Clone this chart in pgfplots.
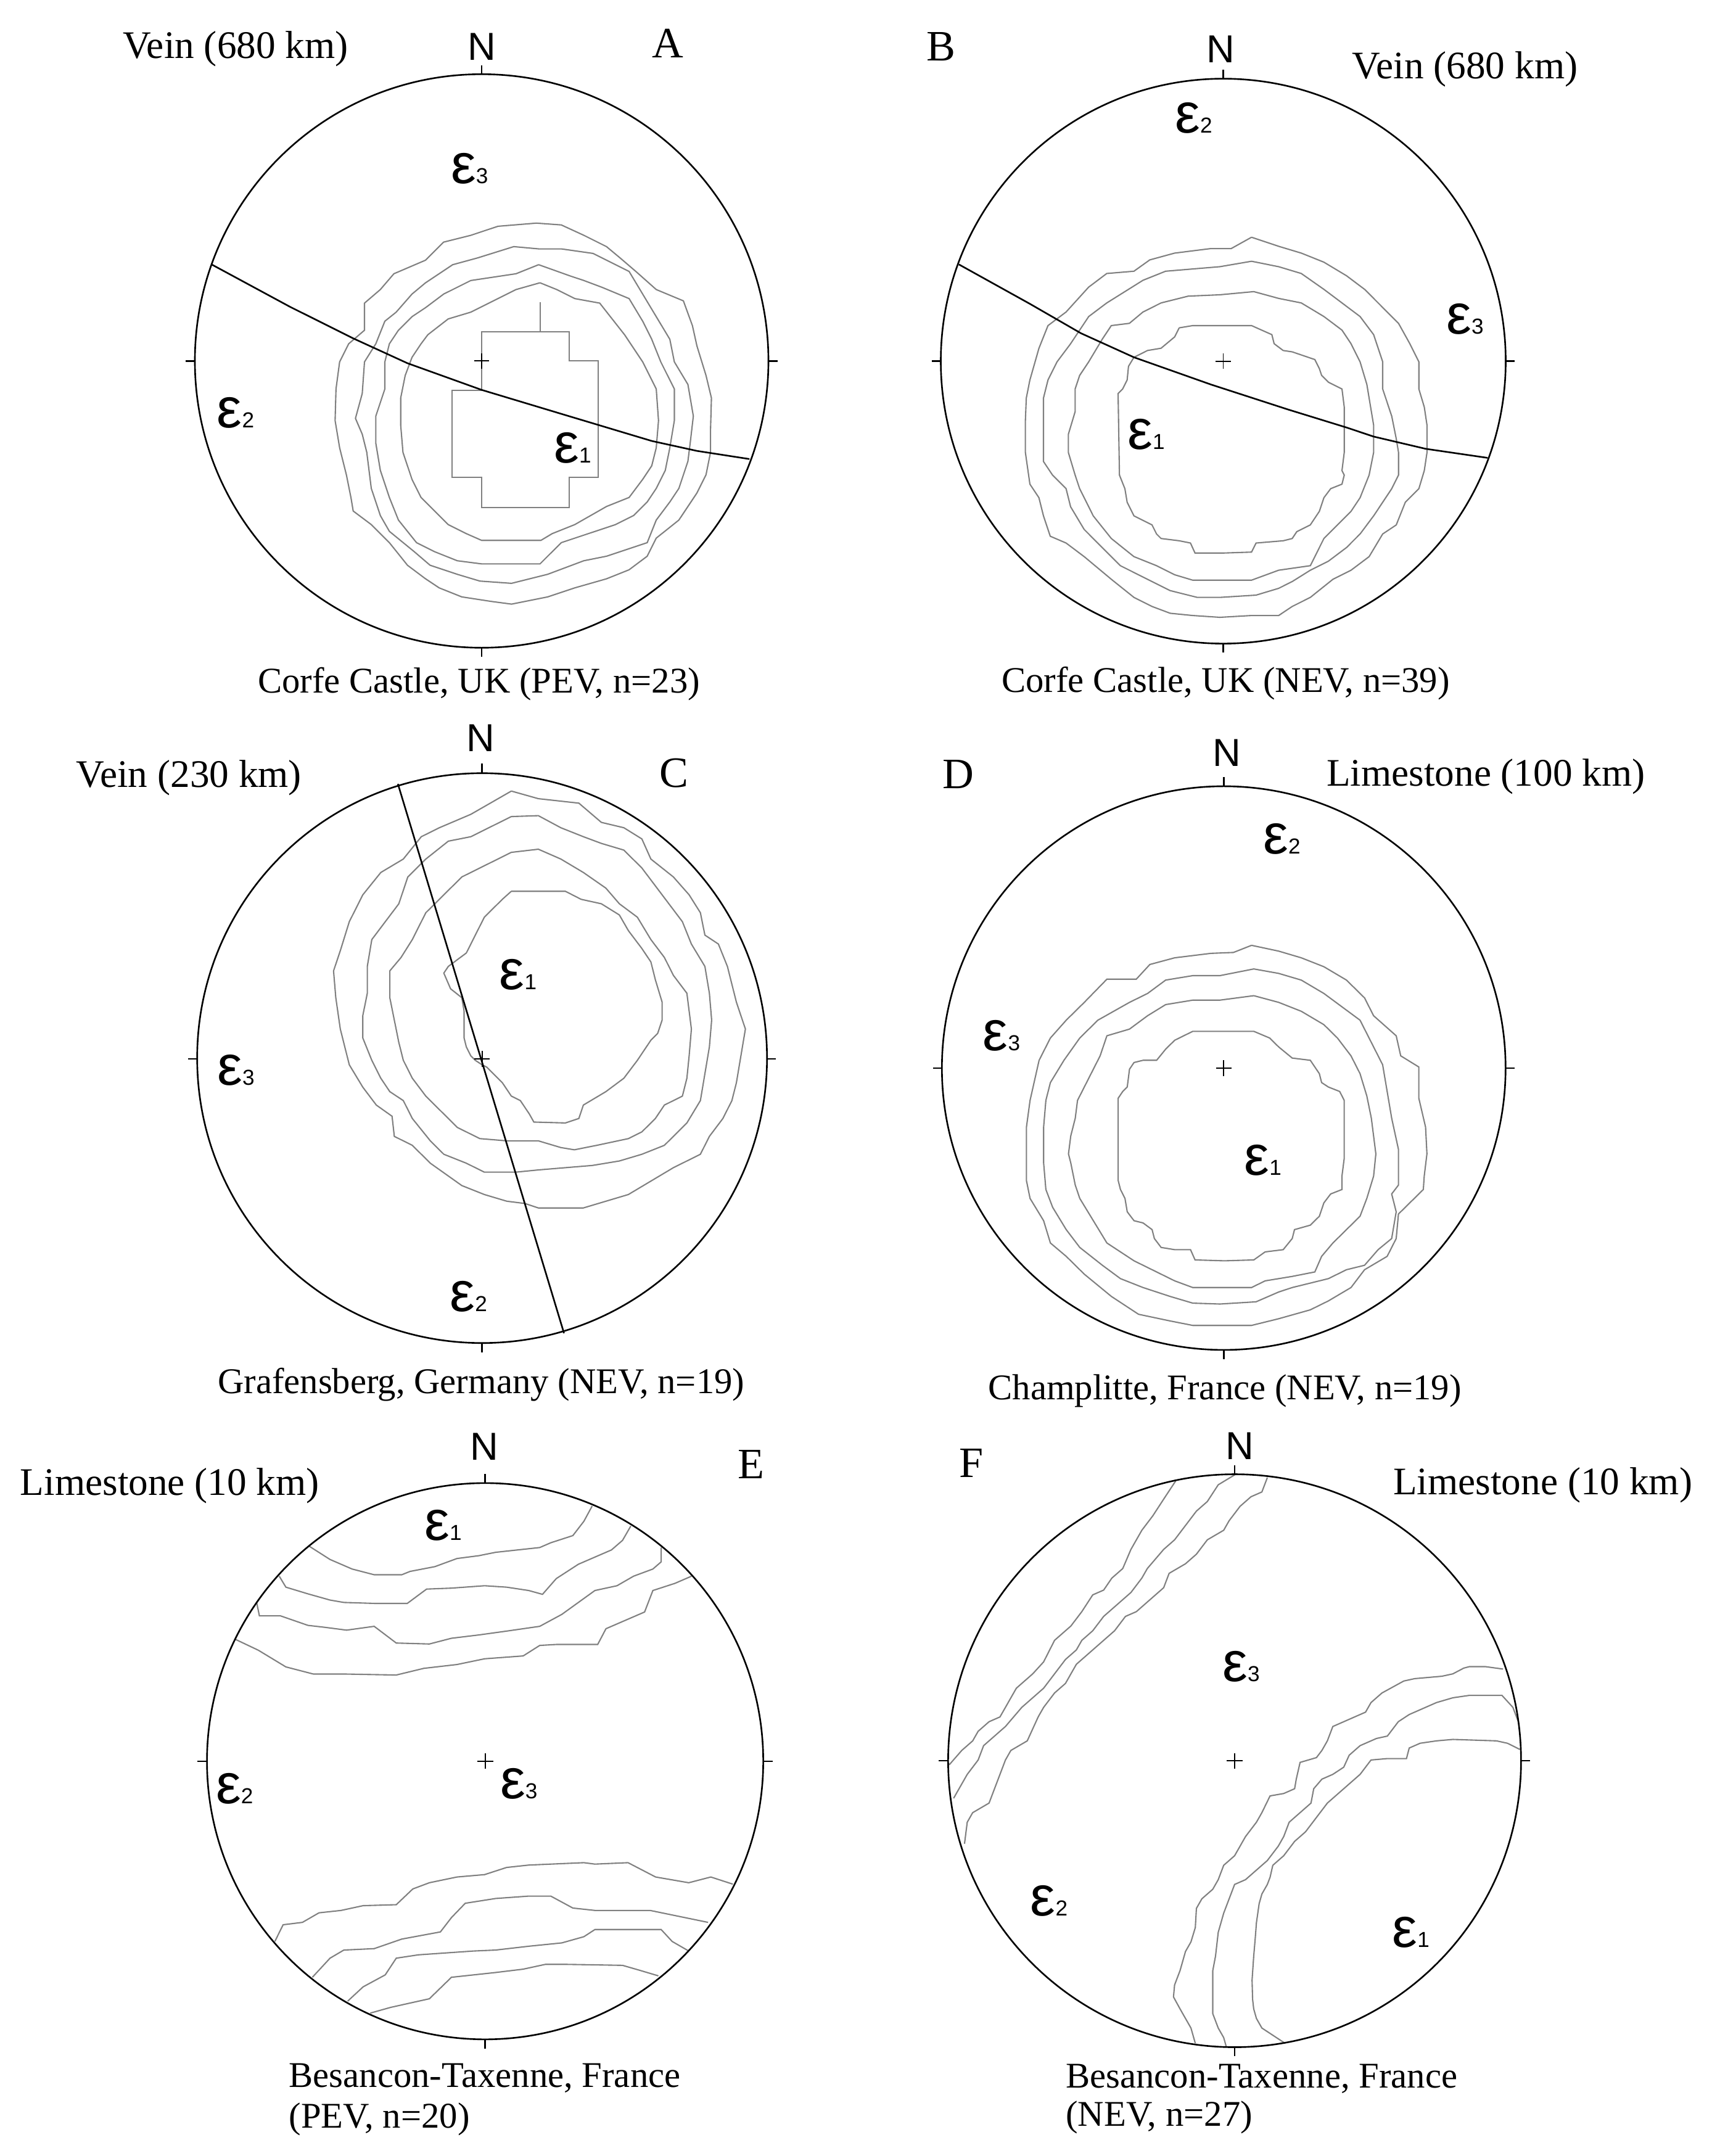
\documentclass[border=0pt]{standalone}
\usepackage{pgfplots}
\pgfplotsset{compat=1.18}
\usepackage{fontspec}
\setmainfont{Liberation Serif}
\newfontfamily\sansfont{Liberation Sans}
\tikzset{
 toplab/.style={font=\fontsize{18}{21}\selectfont, inner sep=0pt},
 captxt/.style={font=\fontsize{16.7}{20}\selectfont, inner sep=0pt},
 panlet/.style={font=\fontsize{20}{24}\selectfont, inner sep=0pt},
 nlab/.style={font=\sansfont\fontsize{18}{21}\selectfont, inner sep=0pt},
 eplab/.style={font=\sansfont\fontsize{26}{30}\selectfont, inner sep=0pt},
 frameline/.style={black, line width=0.75pt},
 plusline/.style={black, line width=0.55pt},
}
\pgfplotsset{
 stereo/.style={hide axis, scale only axis, y dir=reverse, clip=false, enlargelimits=false, anchor=center},
 cont/.style={black!50, line width=0.6pt, mark=none},
 gc/.style={black, line width=0.75pt, mark=none},
}
\newcommand\ep[1]{ε{\fontsize{10}{11}\selectfont #1}}
% #1 radius (cm); #2 cx; #3 cy; #4 xleft; #5 xright; #6 ytop; #7 ybottom; #8 x tick len; #9 y tick len
\newcommand\stereoframe[9]{%
 \draw[frameline] (axis description cs:0.5,0.5) circle[radius=#1cm];
 \draw[frameline] (axis cs:#2,#6) -- (axis cs:#2,#6-#9);
 \draw[frameline] (axis cs:#2,#7) -- (axis cs:#2,#7+#9);
 \draw[frameline] (axis cs:#4,#3) -- (axis cs:#4-#8,#3);
 \draw[frameline] (axis cs:#5,#3) -- (axis cs:#5+#8,#3);
 \draw[plusline] (axis cs:#2-0.85*#8,#3) -- (axis cs:#2+0.85*#8,#3);
 \draw[plusline] (axis cs:#2,#3-0.85*#9) -- (axis cs:#2,#3+0.85*#9);
}
\begin{document}
\begin{tikzpicture}
\useasboundingbox (0,0) rectangle (27.88,-34.96);

% ---------------- A ----------------
\begin{axis}[stereo, at={(7.810cm,-5.853cm)}, width=9.30cm, height=9.30cm,
 xmin=90, xmax=1358, ymin=163.5, ymax=1432.5]
\addplot[cont] coordinates {(845,493) (900,497) (950,520) (1000,545) (1030,570) (1065,600) (1110,640) (1170,665) (1190,720) (1200,765) (1220,830) (1232,880) (1230,950) (1230,1000) (1220,1050) (1200,1090) (1160,1150) (1110,1190) (1090,1230) (1050,1260) (1000,1280) (930,1300) (870,1320) (790,1336) (745,1330) (680,1320) (630,1300) (600,1280) (560,1250) (520,1200) (480,1160) (440,1130) (435,1100) (425,1050) (410,990) (400,930) (402,860) (410,800) (430,760) (465,730) (465,670) (500,640) (530,605) (600,575) (640,535) (700,520) (760,500) (845,493)};
\addplot[cont] coordinates {(795,545) (850,550) (900,550) (970,560) (1050,600) (1080,650) (1110,700) (1140,750) (1150,800) (1180,850) (1192,920) (1185,980) (1180,1020) (1160,1080) (1140,1110) (1110,1150) (1090,1200) (1060,1210) (1000,1230) (950,1240) (870,1270) (790,1290) (720,1285) (670,1270) (610,1250) (575,1220) (520,1175) (500,1140) (480,1080) (470,1000) (460,960) (445,925) (460,870) (465,800) (490,760) (510,710) (535,690) (570,650) (600,625) (660,585) (715,570) (795,545)};
\addplot[cont] coordinates {(850,585) (920,610) (950,620) (990,635) (1050,660) (1080,710) (1100,750) (1120,800) (1150,860) (1150,930) (1140,990) (1130,1040) (1110,1080) (1090,1110) (1060,1140) (1020,1160) (960,1180) (900,1200) (853,1247) (724,1247) (670,1240) (620,1220) (580,1200) (540,1150) (520,1100) (500,1040) (490,980) (490,920) (510,860) (510,800) (520,760) (540,730) (570,700) (600,680) (640,650) (700,620) (800,605) (850,585)};
\addplot[cont] coordinates {(853,625) (890,640) (930,660) (985,670) (1040,740) (1080,800) (1110,860) (1115,930) (1110,990) (1100,1030) (1080,1060) (1050,1100) (1000,1120) (930,1160) (880,1180) (855,1195) (724,1195) (690,1180) (650,1160) (620,1130) (590,1100) (570,1060) (550,1000) (545,940) (545,880) (555,830) (570,790) (590,760) (605,740) (650,705) (700,690) (760,660) (800,640) (853,625)};
\addplot[cont] coordinates {(853,668) (853,733) (918,733) (918,798) (982,798) (982,1056) (918,1056) (918,1122) (724,1122) (724,1056) (658,1056) (658,863) (724,863) (724,733) (853,733)};
\addplot[gc] coordinates {(128,585) (300,678) (440,748) (560,803) (724,862) (900,915) (1000,945) (1100,975) (1200,997) (1316,1015)};
\stereoframe{4.65}{724}{798}{90}{1358}{163.5}{1432.5}{20}{20}
\node[toplab, anchor=base east] at (axis cs:430,128) {Vein (680 km)};
\node[nlab, anchor=base] at (axis cs:724,133) {N};
\node[panlet, anchor=base west] at (axis cs:1100,127) {A};
\node[captxt, anchor=base] at (axis cs:718,1532) {Corfe Castle, UK (PEV, n=23)};
\node[eplab] at (axis cs:697,372) {\ep{3}};
\node[eplab] at (axis cs:180,912) {\ep{2}};
\node[eplab] at (axis cs:925,990) {\ep{1}};
\end{axis}

% ---------------- B ----------------
\begin{axis}[stereo, at={(19.835cm,-5.856cm)}, width=9.16cm, height=9.16cm,
 xmin=103, xmax=1352, ymin=175, ymax=1422]
\addplot[cont] coordinates {(790,525) (850,545) (900,560) (950,580) (1000,610) (1040,640) (1080,680) (1115,715) (1140,760) (1160,800) (1160,860) (1172,900) (1178,940) (1178,1000) (1172,1040) (1160,1080) (1130,1110) (1110,1160) (1080,1180) (1050,1230) (1010,1260) (970,1280) (920,1320) (880,1340) (850,1360) (790,1360) (720,1364) (660,1360) (610,1355) (570,1340) (530,1320) (480,1280) (420,1230) (380,1200) (345,1185) (330,1140) (320,1100) (300,1070) (290,1000) (290,930) (292,880) (300,840) (320,770) (340,720) (380,690) (430,635) (470,605) (530,600) (565,575) (620,560) (700,550) (745,550) (790,525)};
\addplot[cont] coordinates {(790,578) (850,590) (900,605) (950,640) (990,670) (1030,700) (1060,740) (1080,800) (1080,860) (1100,920) (1110,970) (1115,1000) (1115,1050) (1100,1080) (1080,1110) (1060,1140) (1030,1180) (1000,1210) (960,1240) (920,1260) (880,1285) (850,1300) (800,1315) (720,1320) (670,1320) (610,1305) (560,1280) (500,1250) (460,1210) (420,1170) (390,1120) (380,1080) (350,1050) (330,1020) (330,930) (330,880) (340,840) (360,800) (390,760) (430,700) (470,670) (510,645) (550,620) (600,600) (660,595) (720,590) (790,578)};
\addplot[cont] coordinates {(795,645) (850,660) (900,670) (950,700) (990,730) (1010,760) (1030,800) (1045,850) (1050,880) (1060,940) (1060,1000) (1050,1050) (1030,1100) (1010,1130) (980,1160) (950,1190) (920,1250) (850,1260) (790,1282) (720,1282) (660,1282) (620,1270) (580,1250) (530,1230) (480,1190) (440,1140) (410,1080) (400,1050) (385,1000) (385,960) (400,910) (400,860) (410,830) (430,800) (460,750) (480,720) (520,715) (550,690) (590,670) (650,655) (720,652) (795,645)};
\addplot[cont] coordinates {(630,725) (660,720) (790,720) (835,740) (840,760) (860,775) (880,778) (930,795) (940,815) (945,830) (960,845) (990,860) (995,900) (995,1000) (990,1040) (995,1050) (990,1070) (965,1080) (950,1100) (940,1130) (920,1160) (890,1175) (880,1190) (860,1195) (800,1200) (790,1220) (730,1222) (665,1222) (655,1200) (630,1195) (590,1190) (580,1180) (570,1160) (550,1150) (530,1140) (515,1110) (510,1080) (498,1050) (495,870) (505,860) (515,840) (518,810) (530,790) (560,775) (590,770) (620,745) (630,725)};
\addplot[gc] coordinates {(143,585) (300,672) (413,737) (530,790) (700,850) (870,905) (1000,945) (1060,965) (1175,992) (1312,1012)};
\stereoframe{4.58}{727.5}{798.5}{103}{1352}{175}{1422}{20}{20}
\node[panlet, anchor=base west] at (axis cs:70,135) {B};
\node[nlab, anchor=base] at (axis cs:722,140) {N};
\node[toplab, anchor=base west] at (axis cs:1012,175) {Vein (680 km)};
\node[captxt, anchor=base] at (axis cs:733,1530) {Corfe Castle, UK (NEV, n=39)};
\node[eplab] at (axis cs:662,262) {\ep{2}};
\node[eplab] at (axis cs:1262,705) {\ep{3}};
\node[eplab] at (axis cs:557,960) {\ep{1}};
\end{axis}

% ---------------- C ----------------
\begin{axis}[stereo, at={(7.817cm,-17.157cm)}, width=9.24cm, height=9.24cm,
 xmin=92, xmax=1358, ymin=148, ymax=1422]
\addplot[cont] coordinates {(790,188) (850,205) (940,215) (990,258) (1040,270) (1080,295) (1100,340) (1150,380) (1185,420) (1210,460) (1220,510) (1250,530) (1270,580) (1290,660) (1310,720) (1300,780) (1290,840) (1280,880) (1260,920) (1230,960) (1210,1000) (1150,1030) (1100,1060) (1050,1090) (1000,1105) (950,1120) (850,1120) (820,1110) (780,1105) (730,1090) (680,1070) (610,1020) (570,980) (530,960) (525,915) (490,890) (460,850) (430,800) (410,720) (400,650) (395,590) (410,545) (430,480) (460,420) (500,370) (550,340) (590,290) (630,270) (700,240) (790,188)};
\addplot[cont] coordinates {(790,245) (850,243) (900,270) (950,290) (990,305) (1040,320) (1080,360) (1110,400) (1140,440) (1170,480) (1190,530) (1220,580) (1230,640) (1235,700) (1230,760) (1220,820) (1210,880) (1180,930) (1130,980) (1080,1000) (1030,1015) (970,1025) (910,1030) (850,1035) (800,1040) (730,1040) (690,1020) (640,1000) (610,970) (570,920) (550,880) (520,860) (500,830) (480,790) (460,740) (460,690) (470,640) (470,580) (480,520) (510,480) (540,440) (560,380) (600,340) (650,300) (700,290) (790,245)};
\addplot[cont] coordinates {(790,325) (850,318) (900,340) (950,370) (1000,405) (1030,440) (1070,470) (1100,520) (1130,560) (1150,600) (1180,640) (1190,720) (1185,780) (1180,830) (1170,870) (1130,890) (1110,920) (1080,950) (1050,965) (980,980) (930,990) (900,985) (850,970) (780,970) (720,965) (670,940) (630,900) (600,870) (570,830) (550,790) (540,750) (530,700) (520,650) (520,590) (545,560) (570,520) (600,460) (640,420) (680,380) (720,360) (790,325)};
\addplot[cont] coordinates {(790,412) (850,412) (910,412) (945,430) (990,440) (1030,465) (1050,500) (1080,540) (1100,570) (1110,610) (1125,660) (1125,700) (1115,730) (1100,745) (1090,760) (1070,790) (1040,830) (1000,860) (950,890) (940,920) (910,930) (840,928) (830,910) (810,880) (790,870) (770,840) (750,820) (735,805) (725,800) (710,790) (700,780) (690,760) (685,740) (685,680) (680,650) (655,630) (640,595) (650,580) (690,550) (710,510) (730,470) (750,450) (770,430) (790,412)};
\addplot[gc] coordinates {(538,172) (907,1400)};
\stereoframe{4.62}{725}{787}{92}{1358}{148}{1422}{20}{21}
\node[toplab, anchor=base east] at (axis cs:325,180) {Vein (230 km)};
\node[nlab, anchor=base] at (axis cs:722,100) {N};
\node[panlet, anchor=base west] at (axis cs:1118,180) {C};
\node[captxt, anchor=base] at (axis cs:723,1535) {Grafensberg, Germany (NEV, n=19)};
\node[eplab] at (axis cs:805,598) {\ep{1}};
\node[eplab] at (axis cs:178,812) {\ep{3}};
\node[eplab] at (axis cs:695,1318) {\ep{2}};
\end{axis}

% ---------------- D ----------------
\begin{axis}[stereo, at={(19.843cm,-17.319cm)}, width=9.14cm, height=9.14cm,
 xmin=105, xmax=1352, ymin=175, ymax=1440]
\addplot[cont] coordinates {(790,532) (850,545) (900,560) (950,580) (1000,610) (1040,650) (1060,690) (1110,735) (1120,780) (1160,805) (1160,875) (1175,940) (1178,1000) (1172,1050) (1170,1080) (1140,1110) (1115,1135) (1110,1190) (1090,1230) (1040,1260) (1010,1300) (960,1330) (920,1350) (850,1370) (790,1385) (730,1385) (660,1385) (610,1375) (540,1360) (480,1320) (420,1270) (380,1230) (345,1200) (330,1150) (300,1100) (292,1060) (292,1000) (292,940) (300,880) (320,790) (345,740) (380,700) (420,660) (470,608) (535,608) (565,575) (620,560) (700,550) (750,548) (790,532)};
\addplot[cont] coordinates {(795,585) (850,595) (900,610) (950,640) (990,670) (1030,700) (1050,740) (1080,800) (1090,860) (1100,920) (1115,990) (1115,1070) (1100,1090) (1110,1130) (1100,1190) (1070,1215) (1040,1250) (1000,1260) (960,1280) (920,1290) (880,1300) (850,1310) (800,1332) (720,1337) (660,1335) (610,1320) (550,1300) (500,1280) (460,1250) (410,1210) (380,1170) (350,1120) (335,1080) (330,1020) (330,940) (335,880) (345,840) (375,790) (410,740) (450,700) (520,660) (560,640) (600,610) (660,600) (720,600) (795,585)};
\addplot[cont] coordinates {(795,645) (850,660) (900,680) (950,710) (980,740) (1010,780) (1030,820) (1045,870) (1055,920) (1065,1000) (1060,1050) (1045,1100) (1030,1140) (1000,1170) (970,1200) (945,1230) (930,1265) (880,1275) (820,1285) (790,1300) (720,1300) (660,1300) (620,1285) (580,1265) (530,1240) (470,1200) (440,1150) (410,1100) (400,1070) (390,1020) (385,1000) (390,960) (400,920) (405,880) (430,830) (455,780) (470,735) (520,720) (560,690) (600,665) (660,655) (720,655) (795,645)};
\addplot[cont] coordinates {(620,745) (660,725) (730,725) (795,725) (830,740) (850,760) (880,785) (920,790) (940,820) (945,840) (960,850) (985,860) (995,880) (995,950) (995,1010) (990,1050) (990,1080) (965,1090) (950,1110) (940,1140) (920,1160) (885,1170) (880,1190) (860,1215) (820,1220) (795,1238) (730,1240) (665,1238) (655,1215) (620,1215) (590,1210) (575,1190) (570,1170) (550,1155) (530,1150) (515,1130) (510,1100) (500,1080) (495,1060) (495,875) (505,860) (515,850) (520,810) (530,795) (550,790) (580,790) (600,765) (620,745)};
\stereoframe{4.57}{728.5}{807.5}{105}{1352}{175}{1440}{20}{21}
\node[panlet, anchor=base west] at (axis cs:105,180) {D};
\node[nlab, anchor=base] at (axis cs:735,130) {N};
\node[toplab, anchor=base west] at (axis cs:955,175) {Limestone (100 km)};
\node[captxt, anchor=base] at (axis cs:731,1552) {Champlitte, France (NEV, n=19)};
\node[eplab] at (axis cs:857,293) {\ep{2}};
\node[eplab] at (axis cs:237,735) {\ep{3}};
\node[eplab] at (axis cs:815,1015) {\ep{1}};
\end{axis}

% ---------------- E ----------------
\begin{axis}[stereo, at={(7.866cm,-28.558cm)}, width=9.02cm, height=9.02cm,
 xmin=377, xmax=1385, ymin=160, ymax=1325]
\addplot[cont] coordinates {(562,292) (600,320) (640,340) (680,352) (730,352) (745,345) (790,335) (830,318) (870,312) (900,305) (940,300) (980,295) (1000,285) (1040,270) (1060,240) (1075,208)};
\addplot[cont] coordinates {(508,355) (520,378) (560,392) (600,405) (625,410) (680,412) (740,412) (775,382) (820,380) (880,375) (920,378) (960,385) (985,393) (1010,360) (1050,330) (1080,315) (1110,300) (1130,280) (1145,250)};
\addplot[cont] coordinates {(467,410) (472,438) (510,438) (560,458) (590,462) (630,468) (680,460) (720,495) (780,497) (820,485) (870,478) (920,470) (980,460) (1020,435) (1050,410) (1080,385) (1120,375) (1150,355) (1185,340) (1200,325) (1200,295)};
\addplot[cont] coordinates {(428,487) (470,510) (520,545) (570,560) (630,560) (720,562) (770,548) (830,540) (880,528) (950,522) (980,500) (1010,498) (1085,498) (1100,465) (1170,430) (1185,385) (1225,370) (1255,355)};
\addplot[cont] coordinates {(500,1120) (515,1085) (550,1080) (580,1060) (620,1055) (660,1045) (720,1043) (750,1010) (780,997) (830,985) (880,980) (920,965) (960,960) (1020,957) (1060,955) (1080,958) (1140,955) (1190,985) (1250,997) (1290,985) (1330,1000)};
\addplot[cont] coordinates {(568,1195) (600,1155) (625,1138) (680,1135) (730,1115) (800,1100) (820,1070) (845,1040) (900,1030) (960,1025) (1000,1025) (1040,1050) (1080,1055) (1180,1055) (1285,1080)};
\addplot[cont] coordinates {(632,1245) (660,1215) (700,1190) (720,1155) (760,1148) (860,1140) (900,1138) (960,1130) (1020,1123) (1060,1110) (1080,1095) (1130,1095) (1200,1095) (1220,1120) (1250,1140)};
\addplot[cont] coordinates {(673,1270) (710,1258) (780,1240) (820,1195) (900,1185) (950,1178) (990,1168) (1030,1168) (1130,1170) (1160,1180) (1195,1192)};
\stereoframe{4.51}{881}{742.5}{377}{1385}{160}{1325}{17}{19}
\node[toplab, anchor=base west] at (axis cs:38,185) {Limestone (10 km)};
\node[nlab, anchor=base] at (axis cs:880,112) {N};
\node[panlet, anchor=base west] at (axis cs:1338,150) {E};
\node[captxt, anchor=base west] at (axis cs:525,1425) {Besancon-Taxenne, France};
\node[captxt, anchor=base west] at (axis cs:525,1510) {(PEV, n=20)};
\node[eplab] at (axis cs:805,248) {\ep{1}};
\node[eplab] at (axis cs:427,800) {\ep{2}};
\node[eplab] at (axis cs:942,790) {\ep{3}};
\end{axis}

% ---------------- F ----------------
\begin{axis}[stereo, at={(20.019cm,-28.550cm)}, width=9.29cm, height=9.29cm,
 xmin=155, xmax=1205, ymin=143, ymax=1340]
\addplot[cont] coordinates {(572,157) (550,195) (530,230) (510,260) (490,300) (475,340) (455,360) (440,385) (420,395) (400,430) (380,460) (350,490) (330,535) (310,560) (280,590) (265,620) (250,650) (230,660) (210,680) (200,700) (180,720) (157,750)};
\addplot[cont] coordinates {(682,143) (650,165) (630,200) (610,220) (590,250) (570,280) (550,300) (520,340) (510,360) (490,390) (470,410) (440,440) (420,470) (400,490) (390,510) (370,530) (350,560) (330,590) (310,610) (290,630) (260,670) (240,690) (220,710) (210,740) (190,770) (165,820)};
\addplot[cont] coordinates {(740,150) (730,180) (710,190) (690,210) (670,240) (660,260) (630,280) (610,310) (590,330) (560,350) (550,380) (520,410) (500,430) (480,440) (460,470) (440,490) (410,520) (390,540) (370,580) (350,600) (330,630) (320,650) (300,700) (270,720) (260,740) (250,770) (240,800) (230,830) (200,850) (190,870) (185,915)};
\addplot[cont] coordinates {(1172,550) (1140,545) (1110,545) (1100,548) (1080,560) (1060,565) (1010,570) (990,575) (950,600) (930,620) (920,640) (880,660) (860,670) (850,700) (840,720) (830,735) (800,745) (793,780) (790,800) (770,810) (745,815) (730,850) (720,870) (700,900) (690,920) (680,940) (660,960) (650,990) (640,1010) (620,1030) (610,1050) (608,1090) (600,1120) (590,1140) (580,1180) (570,1210) (568,1235) (580,1260) (590,1280) (600,1300) (608,1332)};
\addplot[cont] coordinates {(1200,660) (1190,630) (1170,605) (1110,605) (1080,610) (1050,620) (1030,630) (1000,645) (980,660) (960,690) (940,695) (910,710) (890,730) (880,755) (860,770) (840,780) (825,800) (820,830) (800,850) (780,870) (770,900) (760,920) (740,950) (720,970) (700,990) (680,1000) (670,1030) (660,1060) (650,1100) (645,1150) (640,1180) (640,1230) (640,1270) (650,1300) (660,1320) (665,1340)};
\addplot[cont] coordinates {(1203,718) (1180,705) (1160,700) (1080,697) (1050,700) (1020,705) (1000,715) (995,737) (960,737) (930,740) (910,770) (890,790) (870,810) (850,830) (830,860) (810,890) (790,910) (770,940) (750,960) (745,985) (740,1000) (730,1020) (725,1040) (720,1080) (718,1110) (715,1150) (712,1200) (713,1240) (715,1260) (720,1280) (730,1300) (750,1315) (770,1330)};
\stereoframe{4.645}{680}{741.5}{155}{1205}{143}{1340}{17}{19}
\node[panlet, anchor=base west] at (axis cs:175,150) {F};
\node[nlab, anchor=base] at (axis cs:690,112) {N};
\node[toplab, anchor=base west] at (axis cs:970,185) {Limestone (10 km)};
\node[captxt, anchor=base west] at (axis cs:370,1425) {Besancon-Taxenne, France};
\node[captxt, anchor=base west] at (axis cs:370,1505) {(NEV, n=27)};
\node[eplab] at (axis cs:692,545) {\ep{3}};
\node[eplab] at (axis cs:340,1035) {\ep{2}};
\node[eplab] at (axis cs:1003,1100) {\ep{1}};
\end{axis}
\end{tikzpicture}
\end{document}
